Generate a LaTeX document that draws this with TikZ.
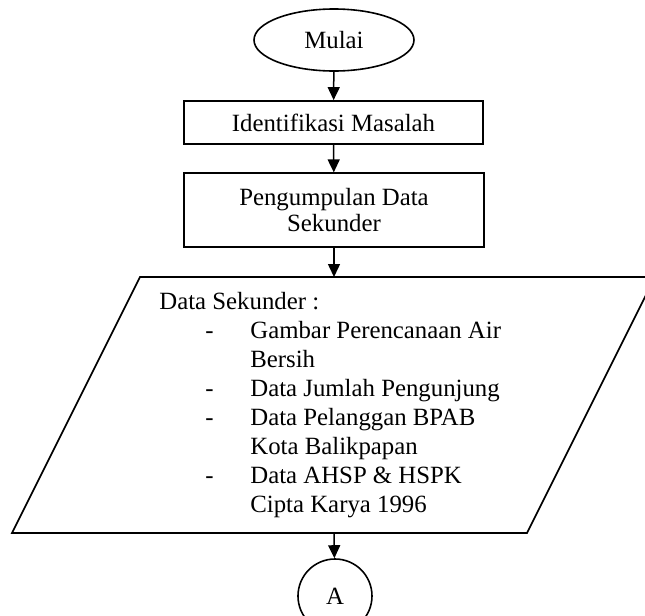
\documentclass[tikz,border=0pt]{standalone}
\usepackage{fontspec}
\setmainfont{Liberation Serif}
\usetikzlibrary{arrows.meta,positioning,shapes.geometric}

\tikzset{
  arr/.style={line width=0.75pt,-{Triangle[length=6.5pt,width=6pt]}},
  proses/.style={draw,line width=0.9pt,rectangle,inner sep=0pt,align=center},
  terminal/.style={draw,line width=0.8pt,ellipse,inner sep=0pt},
}

\begin{document}
\begin{tikzpicture}[x=0.5pt,y=-0.5pt,font=\fontsize{12.4}{14.5}\selectfont]
 \useasboundingbox (0,0) rectangle (645,616);

    % start
    \node[terminal,minimum width=80pt,minimum height=31pt] (mulai) at (334,40) {Mulai};

    % boxes
    \node[proses,minimum width=149.5pt,minimum height=21.5pt] (identifikasi) at (333.5,122.5) {Identifikasi Masalah};
    \node[proses,line width=0.6pt,minimum width=150pt,minimum height=37pt,
          font=\fontsize{12.4}{13}\selectfont] (pengumpulan) at (334,210) {Pengumpulan Data\\Sekunder};

    % input data (parallelogram)
    \coordinate (sekTop) at (334,277);
    \coordinate (sekBot) at (334,533);
    \draw[line width=0.8pt,line join=miter] (12,533) -- (140,277) -- (655,277) -- (527,533) -- cycle;
    \node[anchor=north west,inner sep=0pt,align=left] (sekunder) at (159,292) {Data Sekunder :\\
      \hspace*{23pt}\makebox[22.5pt][l]{-}Gambar Perencanaan Air\\
      \hspace*{45.5pt}Bersih\\
      \hspace*{23pt}\makebox[22.5pt][l]{-}Data Jumlah Pengunjung\\
      \hspace*{23pt}\makebox[22.5pt][l]{-}Data Pelanggan BPAB\\
      \hspace*{45.5pt}Kota Balikpapan\\
      \hspace*{23pt}\makebox[22.5pt][l]{-}Data AHSP \& HSPK\\
      \hspace*{45.5pt}Cipta Karya 1996};

    % connector
    \node[draw,line width=0.8pt,circle,minimum size=37pt,inner sep=0pt] (konA) at (335,596) {A};

    % arrows
    \draw[arr] (mulai) -- (identifikasi);
    \draw[arr] (identifikasi) -- (pengumpulan);
    \draw[arr] (pengumpulan) -- (sekTop);
    \draw[arr] (sekBot) -- (konA);

\end{tikzpicture}
\end{document}
